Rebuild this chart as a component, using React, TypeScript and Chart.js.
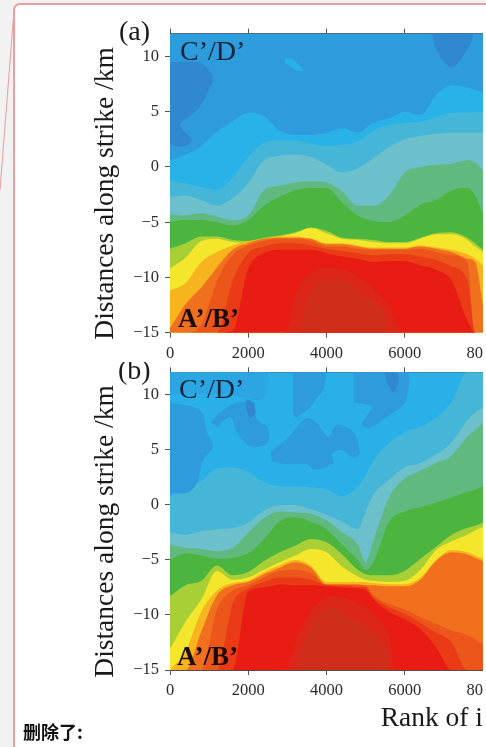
import React, { useEffect, useRef } from "react";
import { Chart, registerables } from "chart.js";

Chart.register(...registerables);

const SERIF = '"Liberation Serif", serif';
const BAND_COLORS_A = ["#2e9bdc", "#29b2e8", "#45b5d8", "#6cc0cc", "#60ba80", "#4cb53f", "#a8cf35", "#f4e62a", "#f8b41e", "#f0701e", "#ec561b", "#ea3a16", "#e81c12"];
const BAND_COLORS_B = ["#29b0e8", "#45b5d8", "#6cc0cc", "#60ba80", "#4cb53f", "#a8cf35", "#f4e62a", "#f8b41e", "#f0701e", "#ec561b", "#ea3a16", "#e81c12"];
const xTickValues = [0, 2000, 4000, 6000, 8000];
const yTickValues = [-15, -10, -5, 0, 5, 10];

const rankA = [0, 400, 800, 1200, 1600, 2000, 2400, 2800, 3200, 3600, 4000, 4400, 4800, 5200, 5600, 6000, 6400, 6800, 7200, 7600, 7800, 8000];
const aTop = [12.2, 12.2, 12.2, 12.2, 12.2, 12.2, 12.2, 12.2, 12.2, 12.2, 12.2, 12.2, 12.2, 12.2, 12.2, 12.2, 12.2, 12.2, 12.2, 12.2, 12.2, 12.2];
const a1 = [0.6, 1.1, 1.9, 3.2, 4.1, 4.9, 4.6, 3.3, 2.9, 2.9, 3.1, 3.5, 3.1, 4.0, 4.4, 5.0, 4.7, 6.5, 7.4, 7.2, 7.0, 6.7];
const a2 = [-1.2, -1.5, -1.8, -2.1, -1.0, 0.9, 2.2, 2.4, 2.4, 2.1, 1.9, 2.0, 2.3, 3.3, 3.8, 4.0, 4.1, 4.5, 4.9, 4.9, 5.0, 5.0];
const a3 = [-2.7, -2.6, -3.0, -3.5, -2.8, -1.5, 0.6, 1.0, 1.1, 0.9, 0.2, -0.5, -0.1, 0.8, 1.8, 2.5, 2.8, 3.0, 3.1, 3.1, 3.1, 3.1];
const a4 = [-4.3, -4.4, -4.2, -4.5, -4.8, -4.4, -2.1, -1.7, -1.4, -1.3, -1.4, -2.2, -3.5, -3.5, -2.6, -0.5, 0.0, 0.2, 0.3, 0.6, 0.4, -0.3];
const a5 = [-5.0, -4.8, -4.8, -5.0, -5.3, -4.8, -3.5, -2.7, -2.1, -1.9, -1.9, -3.2, -4.4, -4.9, -5.0, -4.4, -3.4, -3.0, -2.1, -1.9, -2.6, -4.2];
const a6 = [-7.4, -6.9, -6.3, -6.3, -6.6, -6.7, -6.4, -6.2, -5.9, -5.5, -5.8, -6.4, -6.5, -6.6, -6.8, -6.8, -6.4, -6.0, -5.9, -6.4, -6.9, -7.5];
const a7 = [-9.2, -8.2, -6.7, -6.5, -6.8, -6.9, -6.5, -6.3, -6.0, -5.5, -6.0, -6.5, -6.6, -6.8, -6.9, -6.9, -6.5, -6.1, -6.1, -6.6, -7.2, -7.7];
const a8 = [-11.2, -10.5, -8.6, -7.7, -7.1, -6.7, -6.5, -6.3, -6.3, -6.5, -6.9, -6.9, -7.1, -7.3, -7.3, -7.3, -7.1, -7.3, -7.5, -7.9, -8.3, -8.9];
const a9 = [-14.6, -12.4, -10.9, -9.1, -7.5, -6.9, -6.5, -6.4, -6.4, -6.5, -7.0, -7.0, -7.2, -7.4, -7.4, -7.4, -7.2, -7.4, -7.7, -8.3, -8.6, -12.5];
const a10 = [-15, -15, -14.3, -10.3, -8.0, -7.1, -6.7, -6.5, -6.5, -6.7, -7.2, -7.2, -7.4, -7.5, -7.5, -7.5, -7.4, -7.7, -8.0, -8.6, -15, -15];
const a11 = [-15, -15, -15, -15, -10.3, -7.8, -7.2, -6.9, -6.9, -7.1, -7.4, -7.6, -7.8, -8.0, -7.9, -7.9, -8.1, -8.4, -9.0, -10.3, -15, -15];
const a12 = [-15, -15, -15, -15, -14.8, -9.2, -7.8, -7.5, -7.5, -7.5, -7.8, -8.1, -8.3, -8.6, -8.5, -8.5, -8.9, -9.3, -10.3, -13.9, -15, -15];

const rankB = [0, 400, 800, 1200, 1600, 2000, 2400, 2800, 3200, 3600, 4000, 4400, 4800, 5000, 5200, 5600, 6000, 6400, 6800, 7200, 7600, 7800, 8000];
const bTop = [12.2, 12.2, 12.2, 12.2, 12.2, 12.2, 12.2, 12.2, 12.2, 12.2, 12.2, 12.2, 12.2, 12.2, 12.2, 12.2, 12.2, 12.2, 12.2, 12.2, 12.2, 12.2, 12.2];
const b2 = [0.8, 1.4, 2.2, 3.3, 3.4, 3.0, 2.1, 1.7, 1.7, 1.6, 1.4, 0.8, 1.7, 2.7, 4.1, 5.6, 6.6, 7.1, 7.9, 9.4, 12.1, 12.1, 12.1];
const b3 = [-2.5, -2.7, -2.4, -2.2, -2.1, -1.6, -0.5, 0.0, 0.0, -0.4, -0.9, -1.5, -2.2, -0.6, 0.9, 2.3, 3.4, 3.8, 4.6, 5.7, 7.7, 8.4, 8.8];
const b4 = [-3.6, -3.9, -4.0, -4.2, -3.9, -2.5, -1.2, -0.6, -0.7, -0.8, -1.4, -2.5, -3.6, -5.2, -3.2, 0.7, 2.4, 3.1, 3.8, 4.5, 6.2, 6.8, 7.5];
const b5 = [-5.0, -4.4, -4.6, -4.9, -4.8, -4.4, -3.1, -1.5, -1.1, -1.5, -2.2, -3.6, -5.0, -5.9, -5.2, -1.5, -0.6, -0.2, 0.2, 0.7, 1.2, 1.4, 1.7];
const b6 = [-8.3, -7.3, -6.9, -5.5, -6.4, -6.1, -5.1, -4.3, -3.7, -3.1, -3.4, -4.5, -5.9, -6.3, -6.4, -6.4, -6.0, -4.9, -3.8, -2.7, -2.1, -1.9, -1.6];
const b7 = [-13.1, -10.6, -8.6, -6.0, -6.8, -6.6, -5.9, -5.2, -4.6, -4.0, -4.3, -5.6, -6.5, -6.8, -6.9, -7.0, -6.9, -5.9, -4.1, -3.3, -2.7, -2.3, -2.0];
const b8 = [-15, -13.3, -9.7, -7.8, -7.1, -6.9, -6.1, -5.5, -5.0, -5.5, -7.0, -7.0, -7.0, -7.0, -7.1, -7.2, -7.2, -6.6, -5.0, -4.1, -4.3, -4.6, -4.9];
const b9 = [-15, -15, -11.5, -8.2, -7.3, -7.0, -6.3, -5.7, -5.2, -5.7, -7.2, -7.2, -7.2, -7.3, -7.3, -7.4, -7.4, -6.8, -5.1, -4.3, -4.5, -4.8, -5.1];
const b10 = [-15, -15, -15, -9.5, -7.8, -7.3, -6.6, -6.0, -5.9, -6.2, -7.25, -7.25, -7.3, -7.35, -8.2, -9.0, -9.5, -10.2, -10.8, -11.4, -11.8, -12.2, -12.7];
const b10b = [-15, -15, -15, -15, -9.0, -7.6, -7.0, -6.6, -6.6, -6.8, -7.3, -7.35, -7.45, -7.5, -8.4, -9.3, -9.9, -10.7, -11.6, -12.5, -15, -15, -15];
const b11 = [-15, -15, -15, -15, -15, -7.9, -7.5, -7.2, -7.3, -7.3, -7.4, -7.5, -7.6, -7.7, -8.6, -9.7, -10.4, -11.3, -12.9, -15, -15, -15, -15];

type Patch = { color: string; ranks: number[]; kms: number[] };
const patchesA: Patch[] = [
  { color: "#2f88d0", ranks: [0, 770, 1100, 950, 690, 260, 560, 260, 0], kms: [9.5, 9.4, 8.1, 6.7, 5.1, 3.8, 2.4, 1.8, 2.1] },
  { color: "#2f88d0", ranks: [6720, 7720, 7510, 7200, 6920, 6740], kms: [12.1, 12.1, 10.1, 9.0, 9.9, 11.2] },
  { color: "#29b2e8", ranks: [2950, 3150, 3410, 3260, 2950], kms: [9.9, 9.7, 8.7, 8.7, 9.4] },
  { color: "#dc2618", ranks: [2970, 3310, 3850, 4620, 5510, 5900], kms: [-15, -10.7, -9.2, -9.5, -12.1, -15] },
  { color: "#cf2e1a", ranks: [3310, 3490, 3820, 4440, 5030, 5460, 5540], kms: [-15, -12.3, -10.5, -10.3, -11.8, -13, -15] },
];
const patchesB: Patch[] = [
  { color: "#2ba6e2", ranks: [0, 2440, 2360, 1540, 770, 0], kms: [12.1, 12.1, 9.6, 10, 10, 10] },
  { color: "#2e9bdc", ranks: [0, 770, 950, 1100, 850, 690, 440, 0], kms: [9.3, 8.6, 6.6, 5.3, 4.1, 2.0, 1.1, 1.1] },
  { color: "#2e9bdc", ranks: [1030, 1360, 1720, 2130, 2230, 2490, 2490, 2050, 1720, 1540, 1210], kms: [7.5, 8.6, 9.3, 9.3, 7.7, 7.1, 5.6, 5.3, 6.6, 8.0, 7.1] },
  { color: "#2e9bdc", ranks: [2560, 2950, 3490, 3740, 4050, 4260, 4690, 4850, 4690, 4380, 4130, 4180, 3690, 3490, 2950, 2620], kms: [4.8, 5.9, 7.9, 7.5, 6.2, 7.3, 6.6, 4.7, 4.3, 5.0, 4.6, 3.8, 3.2, 3.7, 3.7, 3.9] },
  { color: "#2e9bdc", ranks: [3150, 3950, 3920, 3690, 3490, 3180, 3150], kms: [12.1, 12.1, 10.5, 9.4, 8.6, 8.0, 10.2] },
  { color: "#2e9bdc", ranks: [4690, 6050, 6000, 5540, 5100, 4900, 5150, 4690], kms: [12.1, 12.1, 9.3, 8.0, 7.0, 7.3, 8.9, 9.3] },
  { color: "#2f88d0", ranks: [5490, 5850, 5720, 5540], kms: [12.1, 11.8, 10.2, 11.1] },
  { color: "#2f88d0", ranks: [1950, 2130, 2180, 2050, 1950], kms: [9.6, 9.3, 8.4, 7.9, 8.6] },
  { color: "#dc2618", ranks: [2970, 3490, 4080, 4950, 5540, 5720], kms: [-15, -10.1, -8.3, -9.2, -11.3, -15] },
  { color: "#cf2e1a", ranks: [3230, 3670, 4080, 4690, 5280, 5540, 5540], kms: [-15, -10.4, -9.3, -10.4, -11.9, -13.1, -15] },
];

type Note = { text: string; x: number; y: number; font: string; color: string };

type PanelProps = {
  ranks: number[];
  bands: { values: number[]; color: string }[];
  patches: Patch[];
  yMax: number;
  top: number;
  height: number;
  paddingTop: number;
  bottomHeight: number;
  notes: Note[];
  xTitle?: string;
};

function Panel(p: PanelProps) {
  const ref = useRef<HTMLCanvasElement | null>(null);
  useEffect(() => {
    const zeroPad = (s: any) => {
      s.paddingLeft = 0;
      s.paddingRight = 0;
      s.paddingTop = 0;
      s.paddingBottom = 0;
    };
    const gridOpts = { drawOnChartArea: false, color: "#555", tickLength: 5, lineWidth: 1 };
    const notesPlugin = {
      id: "notes",
      afterDraw(chart: any) {
        const { ctx } = chart;
        ctx.save();
        ctx.textBaseline = "alphabetic";
        ctx.textAlign = "left";
        for (const n of p.notes) {
          ctx.font = n.font;
          ctx.fillStyle = n.color;
          ctx.fillText(n.text, n.x, n.y);
        }
        ctx.restore();
      },
    };
    const bandSets = p.bands.map((b, i) => ({
      label: "band " + i,
      data: p.ranks.map((x, j) => ({ x, y: b.values[j] })),
      showLine: true,
      cubicInterpolationMode: "monotone",
      fill: "start",
      backgroundColor: b.color,
      borderWidth: 0,
      pointRadius: 0,
    }));
    const patchSets = p.patches.map((b, i) => ({
      label: "patch " + i,
      data: b.ranks.map((x, j) => ({ x, y: b.kms[j] })),
      showLine: true,
      tension: 0.3,
      fill: "shape",
      backgroundColor: b.color,
      borderWidth: 0,
      pointRadius: 0,
    }));
    const painted = [...bandSets, ...patchSets].reverse();
    const chart = new Chart(ref.current as HTMLCanvasElement, {
      type: "scatter",
      data: { datasets: painted as any },
      plugins: [notesPlugin],
      options: {
        animation: false,
        responsive: false,
        devicePixelRatio: 1,
        layout: { padding: { top: p.paddingTop, left: 0, right: 0, bottom: 0 } },
        plugins: { legend: { display: false }, tooltip: { enabled: false }, title: { display: false } },
        scales: {
          x: {
            type: "linear",
            position: "bottom",
            min: 0,
            max: 8000,
            afterBuildTicks: (s: any) => { s.ticks = xTickValues.map((value) => ({ value })); },
            afterFit: (s: any) => { zeroPad(s); s.height = p.bottomHeight; },
            grid: gridOpts,
            border: { color: "#5a4a48", width: 1 },
            ticks: { autoSkip: false, maxRotation: 0, minRotation: 0, padding: 6, color: "#2b2b2b", font: { family: SERIF, size: 16.5 }, callback: (v: any) => String(v) },
            title: p.xTitle
              ? { display: true, text: p.xTitle, align: "end", color: "#1a1a1a", font: { family: SERIF, size: 27.5 }, padding: { top: 0, bottom: 12 } }
              : { display: false },
          },
          xTop: {
            type: "linear",
            position: "top",
            min: 0,
            max: 8000,
            afterBuildTicks: (s: any) => { s.ticks = xTickValues.map((value) => ({ value })); },
            afterFit: (s: any) => { zeroPad(s); s.height = 5; },
            grid: gridOpts,
            border: { color: "#5a5f66", width: 1 },
            ticks: { display: false },
          },
          y: {
            type: "linear",
            position: "left",
            min: -15,
            max: p.yMax,
            afterBuildTicks: (s: any) => { s.ticks = yTickValues.map((value) => ({ value })); },
            afterFit: (s: any) => { zeroPad(s); s.width = 170; },
            grid: gridOpts,
            border: { color: "#5a6a72", width: 1 },
            ticks: { padding: 6, color: "#2b2b2b", font: { family: SERIF, size: 16.5 }, callback: (v: any) => String(v).replace("-", "\u2212") },
            title: { display: true, text: "Distances along strike /km   ", color: "#1a1a1a", font: { family: SERIF, size: 27.5 }, padding: { top: 89, bottom: 0 } },
          },
        },
      } as any,
    });
    return () => chart.destroy();
  }, []);
  return (
    <canvas
      ref={ref}
      width={483}
      height={p.height}
      style={{ position: "absolute", left: 0, top: p.top, width: 483, height: p.height, display: "block", filter: "blur(0.5px)" }}
    />
  );
}

const bandsOf = (rows: number[][], colors: string[]) => rows.map((values, i) => ({ values, color: colors[i] }));

export default function App() {
  const boldNote = 'bold 27px "Liberation Serif", serif';
  const plainNote = '28px "Liberation Serif", serif';
  return (
    <div style={{ position: "fixed", left: 0, top: 0, width: 486, height: 747, overflow: "hidden", background: "#f2f2f2" }}>
      <svg width={486} height={747} style={{ position: "absolute", left: 0, top: 0 }}>
        <line x1={13.5} y1={17} x2={0} y2={190} stroke="#ec9a9a" strokeWidth={1} />
      </svg>
      <div
        style={{
          position: "absolute",
          left: 13,
          top: 3,
          width: 600,
          height: 900,
          background: "#fff",
          border: "2px solid #eaa0a0",
          borderRadius: 7,
          boxSizing: "border-box",
        }}
      />
      <Panel
        ranks={rankA}
        bands={bandsOf([aTop, a1, a2, a3, a4, a5, a6, a7, a8, a9, a10, a11, a12], BAND_COLORS_A)}
        patches={patchesA}
        yMax={12.08}
        top={0}
        height={362}
        paddingTop={28.5}
        bottomHeight={29.3}
        notes={[
          { text: "(a)", x: 119, y: 40, font: plainNote, color: "#1a1a1a" },
          { text: "C\u2019/D\u2019", x: 180, y: 60, font: plainNote, color: "#15243a" },
          { text: "A\u2019/B\u2019", x: 178, y: 327, font: boldNote, color: "#1a0a05" },
        ]}
      />
      <Panel
        ranks={rankB}
        bands={bandsOf([bTop, b2, b3, b4, b5, b6, b7, b8, b9, b10, b10b, b11], BAND_COLORS_B)}
        patches={patchesB}
        yMax={12.05}
        top={362}
        height={385}
        paddingTop={5.3}
        bottomHeight={77}
        xTitle="Rank of i"
        notes={[
          { text: "(b)", x: 118, y: 17, font: plainNote, color: "#1a1a1a" },
          { text: "C\u2019/D\u2019", x: 179, y: 36, font: plainNote, color: "#15243a" },
          { text: "A\u2019/B\u2019", x: 177, y: 303, font: boldNote, color: "#1a0a05" },
        ]}
      />
      <div
        style={{
          position: "absolute",
          left: 23,
          top: 720,
          fontFamily: '"Noto Sans CJK SC", sans-serif',
          fontWeight: 700,
          fontSize: 18,
          lineHeight: "22px",
          color: "#111",
        }}
      >
        删除了:
      </div>
    </div>
  );
}
